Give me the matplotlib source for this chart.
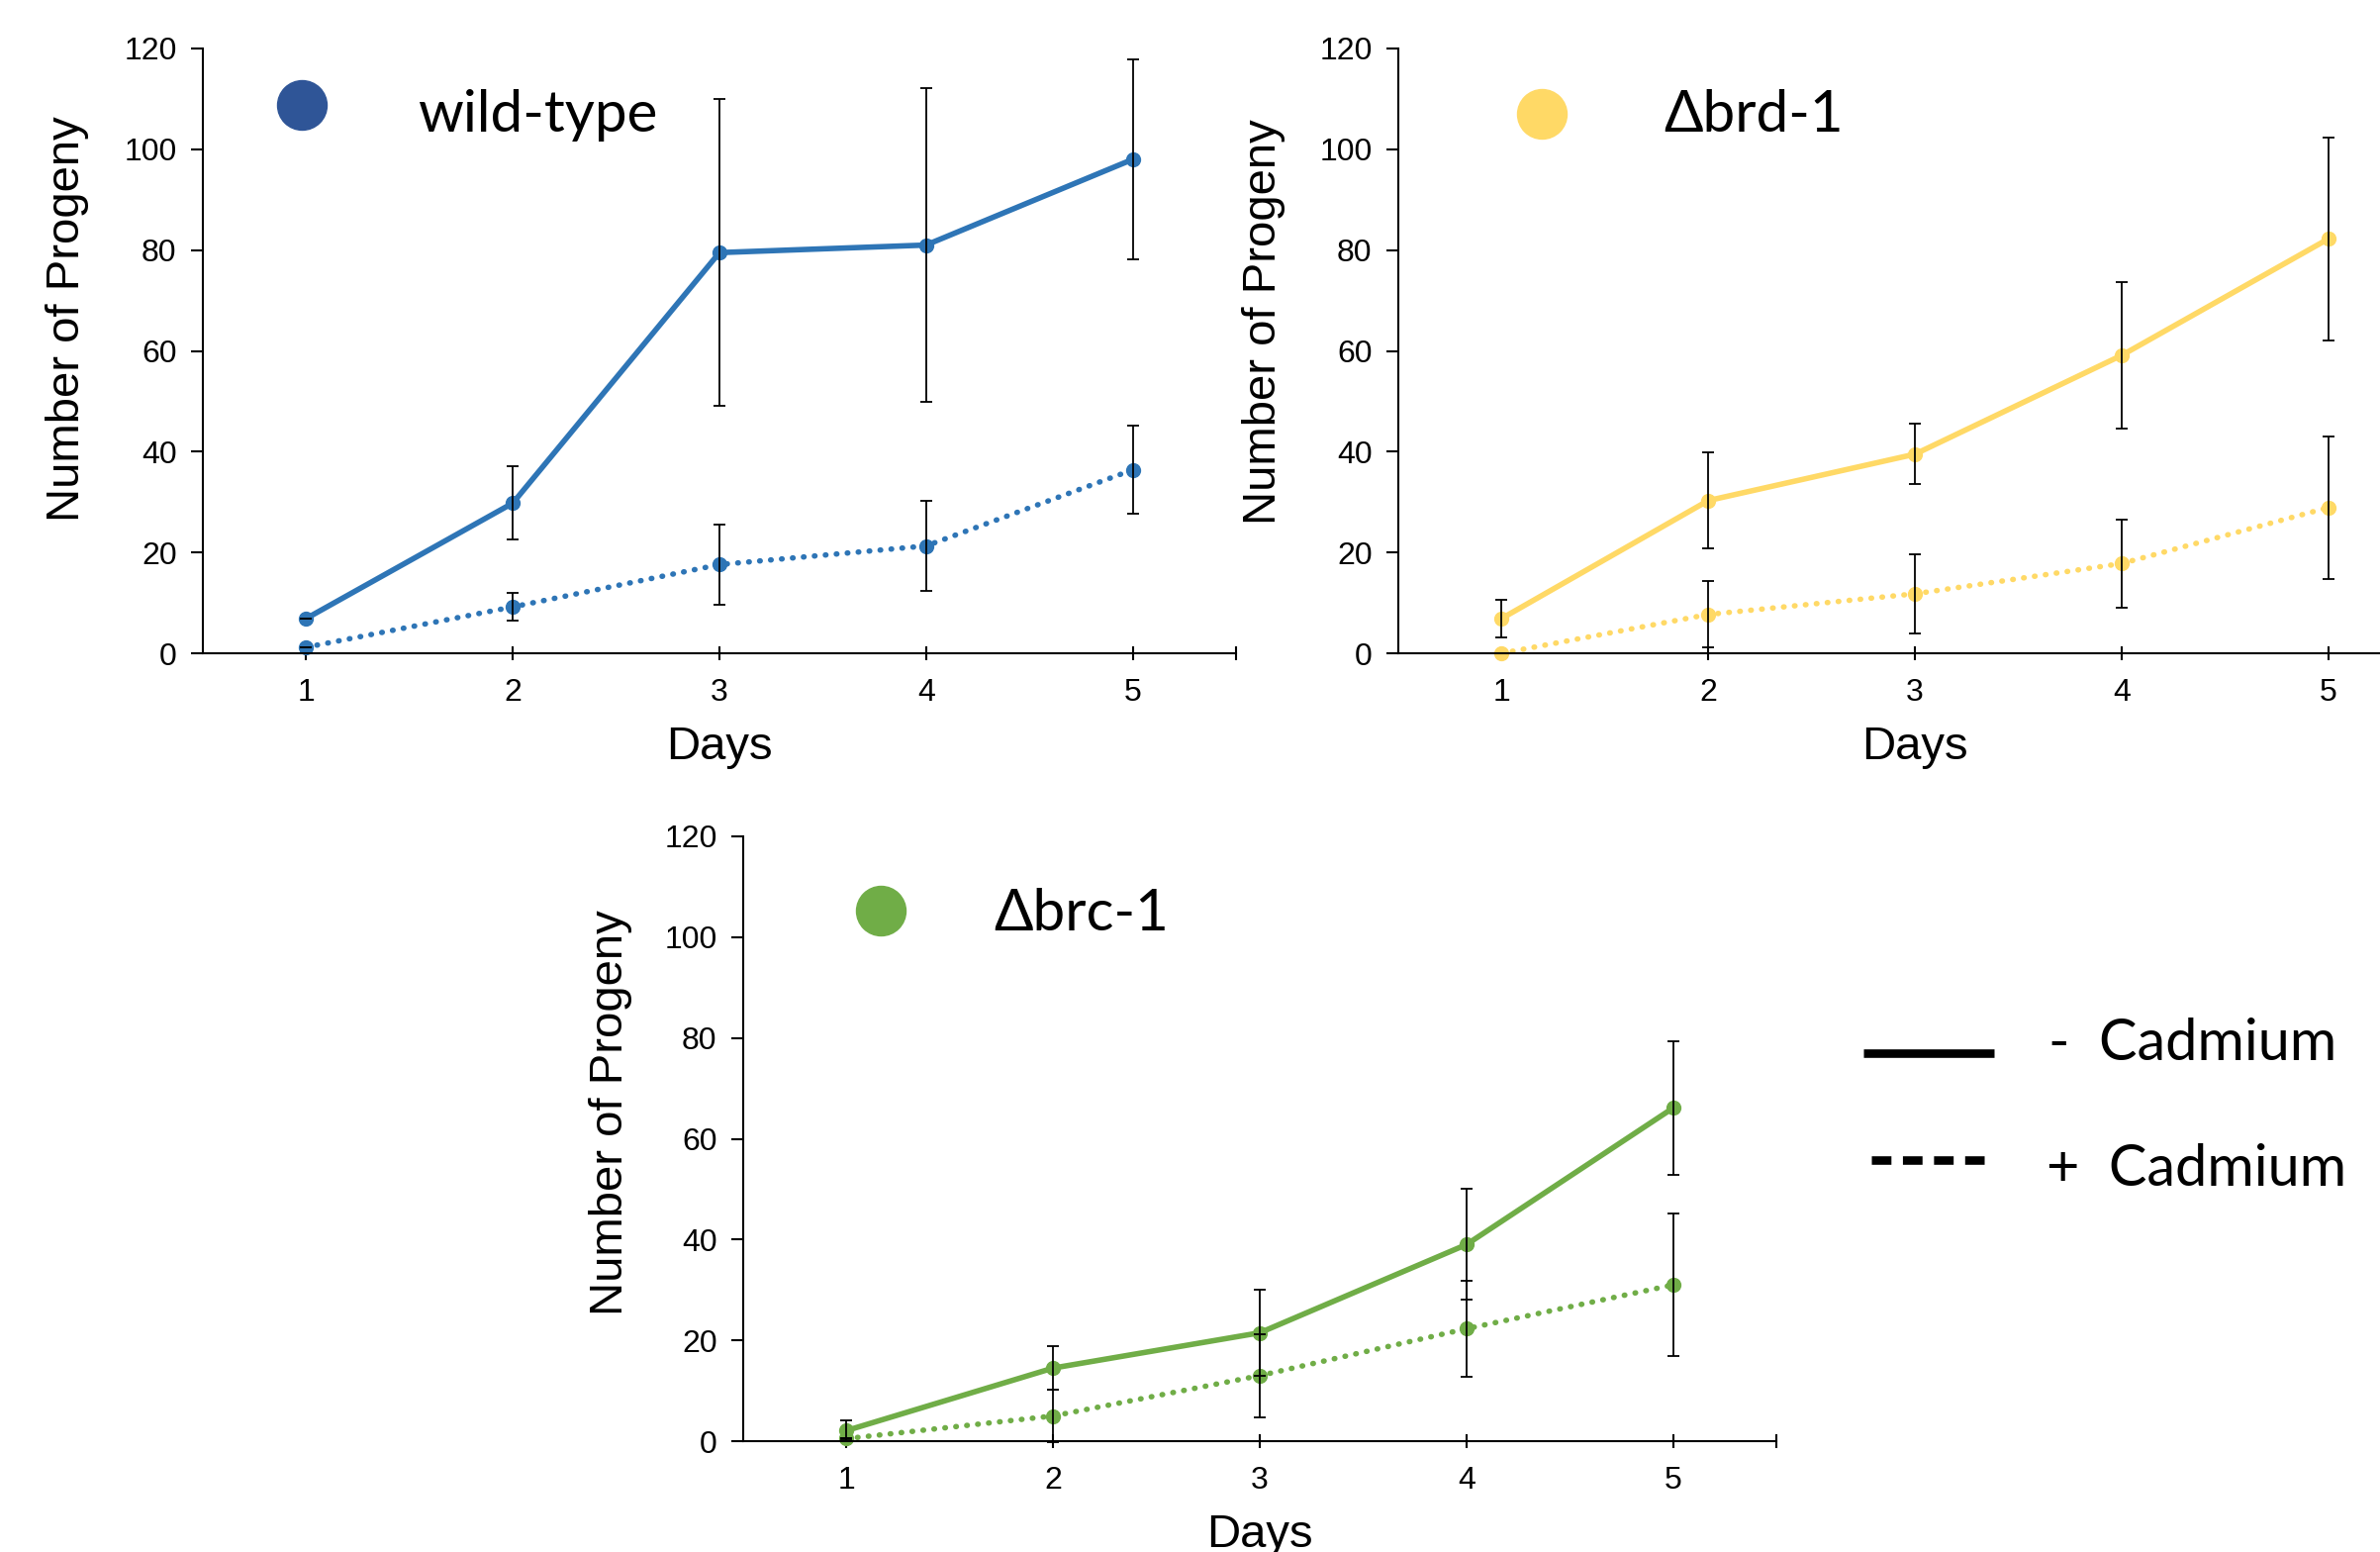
import matplotlib.pyplot as plt
from matplotlib.lines import Line2D

# Days on the x axis
days = [1, 2, 3, 4, 5]

# wild-type
wt_ctrl = [6.9, 29.8, 79.5, 81.0, 98.0]
wt_ctrl_err = [0, 7.3, 30.4, 31.1, 19.9]
wt_cd = [1.2, 9.2, 17.6, 21.3, 36.4]
wt_cd_err = [0, 2.8, 8.0, 9.0, 8.8]

# brd-1
brd_ctrl = [6.9, 30.3, 39.5, 59.1, 82.2]
brd_ctrl_err = [3.7, 9.5, 6.0, 14.5, 20.2]
brd_cd = [0.0, 7.7, 11.8, 17.8, 28.9]
brd_cd_err = [0, 6.6, 7.9, 8.8, 14.1]

# brc-1
brc_ctrl = [2.1, 14.5, 21.5, 39.0, 66.1]
brc_ctrl_err = [2.0, 4.3, 8.6, 11.0, 13.2]
brc_cd = [0.5, 5.0, 13.0, 22.3, 31.0]
brc_cd_err = [0, 5.2, 8.2, 9.6, 14.2]

names = ['wild-type', 'Δbrd-1', 'Δbrc-1']
line_colors = ['#2E75B6', '#FFD966', '#70AD47']
dot_colors = ['#2F5597', '#FFD966', '#70AD47']

sans = ['Liberation Sans', 'DejaVu Sans']
calib = ['Lato', 'Open Sans', 'DejaVu Sans']

fig = plt.figure(figsize=(24.05, 15.68), dpi=100)

W, H = 2405, 1568
aw, ah = 1044, 611
# left, top (pixels) of each axes
boxes = [(205, 49), (1413, 49), (751, 845)]
title_pos = [(0.096, 0.907, 0.208, 0.863), (0.139, 0.892, 0.257, 0.862), (0.133, 0.877, 0.243, 0.845)]
ylab_pos = [(-0.131, 0.553), (-0.130, 0.548), (-0.128, 0.543)]

series = [
    (wt_ctrl, wt_ctrl_err, wt_cd, wt_cd_err),
    (brd_ctrl, brd_ctrl_err, brd_cd, brd_cd_err),
    (brc_ctrl, brc_ctrl_err, brc_cd, brc_cd_err),
]

for i in range(3):
    l, t = boxes[i]
    ax = fig.add_axes([l / W, (H - t - ah) / H, aw / W, ah / H])
    ctrl, ctrl_err, cd, cd_err = series[i]
    c = line_colors[i]

    ax.plot(days, ctrl, color=c, lw=4.0, marker='o', ms=10, zorder=2, clip_on=False)
    ax.plot(days, cd, color=c, lw=4.0, linestyle=(0, (0.1, 1.9)), dash_capstyle='round',
            marker='o', ms=10, zorder=2, clip_on=False)
    ax.errorbar(days, ctrl, yerr=ctrl_err, fmt='none', ecolor='black', elinewidth=1.3,
                capsize=4, capthick=1.3, zorder=3, clip_on=False)
    ax.errorbar(days, cd, yerr=cd_err, fmt='none', ecolor='black', elinewidth=1.3,
                capsize=4, capthick=1.3, zorder=3, clip_on=False)

    ax.set_xlim(0.5, 5.5)
    ax.set_ylim(0, 120)
    ax.set_yticks(range(0, 121, 20))
    ax.set_xticks([1, 2, 3, 4, 5, 5.5])
    ax.set_xticklabels(['1', '2', '3', '4', '5', ''])
    for s in ['top', 'right']:
        ax.spines[s].set_visible(False)
    for s in ['left', 'bottom']:
        ax.spines[s].set_linewidth(1.5)
    ax.tick_params(axis='y', direction='out', length=9, width=1.5, pad=10, labelsize=23)
    ax.tick_params(axis='x', direction='inout', length=10, width=1.5, pad=13, labelsize=23)
    for lab in ax.get_xticklabels() + ax.get_yticklabels():
        lab.set_family(sans)

    yx, yy = ylab_pos[i]
    ax.text(yx, yy, 'Number of Progeny', transform=ax.transAxes, rotation=90,
            ha='center', va='center', fontsize=34, family=sans)
    ax.text(0.5, -0.155, 'Days', transform=ax.transAxes, ha='center', va='center',
            fontsize=34, family=sans)

    cx, cy, tx, ty = title_pos[i]
    ax.plot([cx], [cy], marker='o', ms=36, color=dot_colors[i], transform=ax.transAxes,
            clip_on=False, linestyle='none')
    ax.text(tx, ty, names[i], transform=ax.transAxes, ha='left', va='baseline',
            fontsize=42, family=calib)

# line style key
fig.add_artist(Line2D([1883 / W, 2015 / W], [1 - 1064 / H, 1 - 1064 / H], color='black',
                      lw=6.2, solid_capstyle='butt'))
fig.add_artist(Line2D([1891 / W, 2005 / W], [1 - 1172 / H, 1 - 1172 / H], color='black',
                      lw=6.2, linestyle=(0, (2.3, 1.35)), dash_capstyle='butt'))
fig.text(2070 / W, 1 - 1071 / H, '-  Cadmium', ha='left', va='baseline', fontsize=41.5, family=calib)
fig.text(2068 / W, 1 - 1198 / H, '+  Cadmium', ha='left', va='baseline', fontsize=41.5, family=calib)

fig.savefig('out.png', dpi=100)
